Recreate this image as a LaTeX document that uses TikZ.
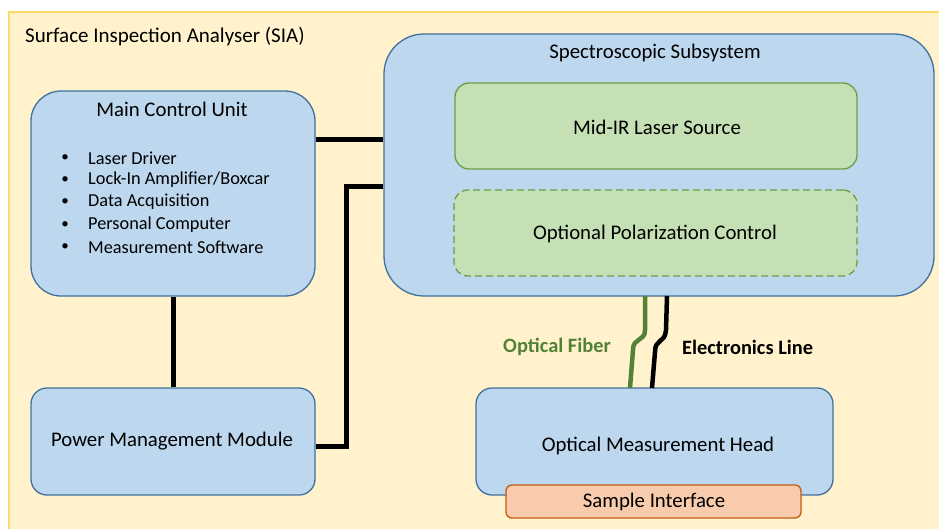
\documentclass[tikz,border=0pt]{standalone}
\usepackage{fontspec}
\setmainfont{Carlito}
\usetikzlibrary{calc}
\definecolor{frameY}{HTML}{FFF2CC}
\definecolor{frameB}{HTML}{FFD966}
\definecolor{boxB}{HTML}{BDD7EE}
\definecolor{boxBd}{HTML}{41719C}
\definecolor{boxG}{HTML}{C5E0B4}
\definecolor{boxGd}{HTML}{6A9E45}
\definecolor{boxO}{HTML}{F8CBAD}
\definecolor{boxOd}{HTML}{C55A11}
\definecolor{fiberG}{HTML}{548235}
\tikzset{
  bluebox/.style={draw=boxBd, fill=boxB, line width=1.3pt, inner sep=0pt},
  greenbox/.style={draw=boxGd, fill=boxG, line width=1.3pt, rounded corners=14pt, inner sep=0pt},
  orangebox/.style={draw=boxOd, fill=boxO, line width=1.3pt, rounded corners=6pt, inner sep=0pt},
  wire/.style={line width=5pt, black},
  fiber/.style={line width=4.5pt, fiberG},
  elec/.style={line width=4.5pt, black},
  ttl/.style={font=\fontsize{20.8}{23}\selectfont, inner sep=0pt},
  itm/.style={font=\fontsize{18.3}{21}\selectfont, inner sep=0pt, anchor=west},
  lbl/.style={font=\fontsize{20.4}{23}\selectfont\bfseries, inner sep=0pt},
}
\begin{document}
\begin{tikzpicture}[x=1pt,y=-1pt]
\useasboundingbox (0,0) rectangle (939,528);
% frame
\path[fill=frameY, draw=frameB, line width=2pt] (9,12) rectangle (950,540);
\node[ttl, anchor=west, font=\fontsize{21}{24}\selectfont] (sia) at (25,37) {Surface Inspection Analyser (SIA)};
% main control unit
\node[bluebox, rounded corners=30pt, minimum width=284pt, minimum height=205pt] (mcu) at (173,193.5) {};
\node[ttl] (mcut) at (172,109) {Main Control Unit};
\foreach \t/\y [count=\i] in {{Laser Driver}/158, {Lock-In Amplifier/Boxcar}/180, {Data Acquisition}/202, {Personal Computer}/225, {Measurement Software}/247}{
  \node[itm] (it\i) at (88,\y) {\t};
  \node[itm, anchor=center, font=\fontsize{15}{18}\selectfont] (bu\i) at (65,\y) {\textbullet};
}
% power management
\node[bluebox, rounded corners=16pt, minimum width=284pt, minimum height=107pt] (pmm) at (173,441.5) {};
\node[ttl] (pmmt) at (172,441) {Power Management Module};
% spectroscopic subsystem
\node[bluebox, rounded corners=40pt, minimum width=550pt, minimum height=262pt] (ss) at (659,165) {};
\node[ttl] (sst) at (655,53) {Spectroscopic Subsystem};
\node[greenbox, minimum width=402pt, minimum height=86pt] (mir) at (656,126) {};
\node[ttl] (mirt) at (657,127) {Mid-IR Laser Source};
\node[greenbox, dashed, dash pattern=on 7pt off 4pt, minimum width=403pt, minimum height=86pt] (opc) at (655.5,233) {};
\node[ttl] (opct) at (655,234) {Optional Polarization Control};
% optical measurement head
\node[bluebox, rounded corners=16pt, minimum width=357pt, minimum height=107pt] (omh) at (654.5,441.5) {};
\node[ttl] (omht) at (658,446) {Optical Measurement Head};
\node[orangebox, minimum width=295pt, minimum height=33pt] (si) at (653.5,501.5) {};
\node[ttl] (sit) at (654,502) {Sample Interface};
% connectors
\draw[wire] (mcu.east |- 0,139) -- (ss.west |- 0,139);
\draw[wire] (pmm.east |- 0,446) -- (346,446) -- (346,186) -- (ss.west |- 0,186);
\draw[wire] (mcu.south) -- (pmm.north);
\coordinate (fa) at (645,296);
\coordinate (fb) at (630,388);
\coordinate (ea) at (667,296);
\coordinate (eb) at (652,388);
\draw[fiber] (fa) -- (645,330) .. controls (645,342) and (633,337) .. (633,350) -- (fb);
\draw[elec] (ea) -- (666,330) .. controls (665,344) and (655,338) .. (655,352) -- (eb);
\node[lbl, text=fiberG] (fl) at (557,347) {Optical Fiber};
\node[lbl, anchor=west] (el) at (682,347) {Electronics Line};
\end{tikzpicture}
\end{document}
